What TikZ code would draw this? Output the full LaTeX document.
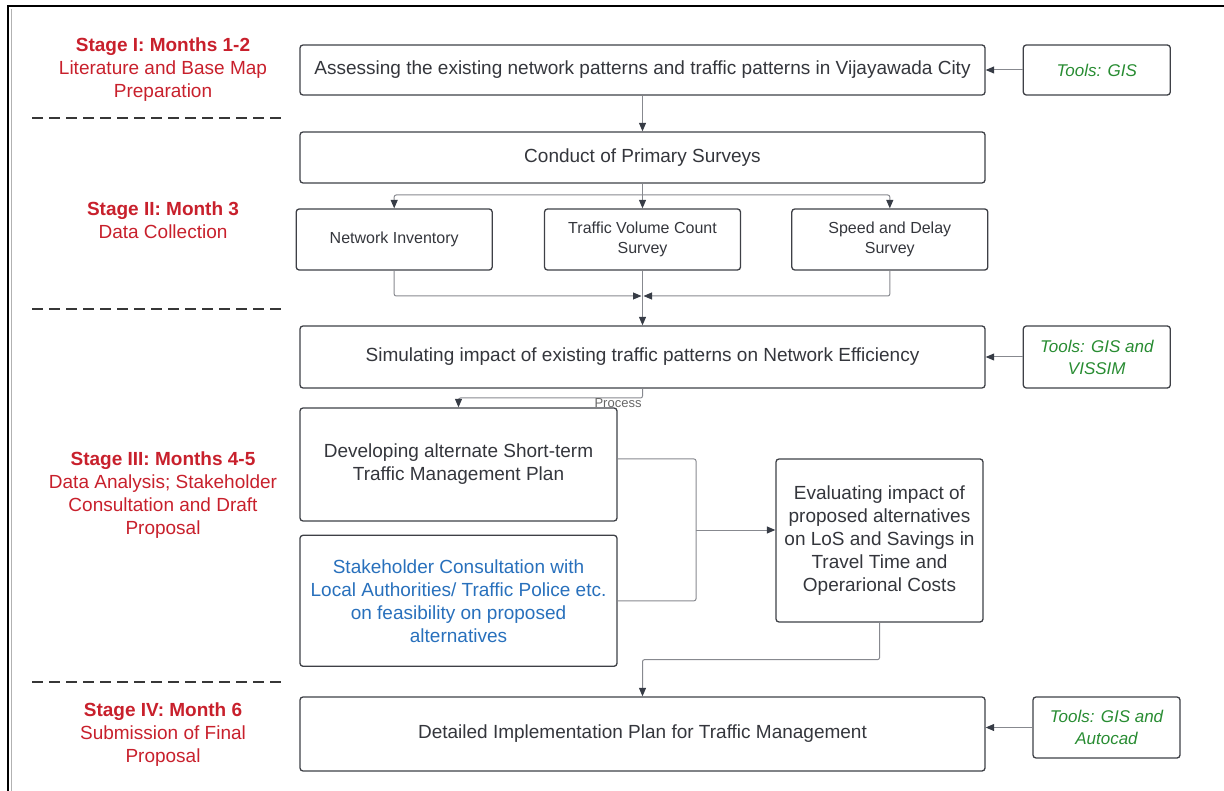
\documentclass[tikz,border=0pt]{standalone}
\usepackage{fontspec}
\setmainfont{Liberation Sans}
\usepackage{xcolor}
\usetikzlibrary{positioning,arrows.meta,calc}

\definecolor{stagered}{RGB}{200,32,44}
\definecolor{toolgreen}{RGB}{40,140,50}
\definecolor{stakeblue}{RGB}{40,112,188}
\definecolor{boxtext}{RGB}{52,54,60}
\definecolor{boxline}{RGB}{62,64,70}
\definecolor{linegray}{RGB}{135,137,143}
\definecolor{tipgray}{RGB}{55,60,70}
\definecolor{sepgray}{RGB}{55,55,55}

\begin{document}
\begin{tikzpicture}[x=1pt,y=-1pt,
    box/.style={rectangle, rounded corners=3pt, draw=boxline, line width=1.3pt, align=center, text=boxtext, inner sep=2pt, font=\fontsize{19}{23}\selectfont},
    wide/.style={box, minimum width=685pt},
    small/.style={box, minimum width=196pt, minimum height=61pt, font=\fontsize{16}{20}\selectfont},
    tool/.style={box, minimum width=147pt, text=toolgreen, font=\fontsize{17}{22}\selectfont\itshape},
    stage/.style={align=center, text=stagered, font=\fontsize{19}{23}\selectfont},
    flow/.style={draw=linegray, line width=1pt, rounded corners=2pt, -{Triangle[length=8.5pt,width=7pt,color=tipgray]}},
    link/.style={draw=linegray, line width=1pt, rounded corners=2pt},
    sep/.style={draw=sepgray, line width=2.5pt, dash pattern=on 11pt off 6pt}]
    \useasboundingbox (0,0) rectangle (1224,791);

    % page frame
    \draw[black, line width=2pt] (8,791) -- (8,6) -- (1224,6);
    \draw[black!30, line width=0.6pt] (11.5,791) -- (11.5,9);

    % Stage labels on the left
    \node [stage] (stage1) at (163,70) {\textbf{Stage I: Months 1-2}\\Literature and Base Map\\Preparation};
    \node [stage] (stage2) at (163,220.5) {\textbf{Stage II: Month 3}\\Data Collection};
    \node [stage] (stage3) at (163,495.5) {\textbf{Stage III: Months 4-5}\\Data Analysis; Stakeholder\\Consultation and Draft\\Proposal};
    \node [stage] (stage4) at (163,735) {\textbf{Stage IV: Month 6}\\Submission of Final\\Proposal};

    \draw [sep] (32,118) -- (286,118);
    \draw [sep] (32,309) -- (286,309);
    \draw [sep] (32,682) -- (286,682);

    % Stage I
    \node [wide, minimum height=50pt] (assess) at (642.5,70) {Assessing the existing network patterns and traffic patterns in Vijayawada City};
    \node [tool, minimum height=50pt, right=37pt of assess] (gis) {Tools: GIS};

    % Stage II
    \node [wide, minimum height=51pt] (primary) at (642.5,157.5) {Conduct of Primary Surveys};
    \node [small] (volume) at (642.5,239.5) {Traffic Volume Count\\Survey};
    \node [small, left=51pt of volume] (inventory) {Network Inventory};
    \node [small, right=50pt of volume] (speed) {Speed and Delay\\Survey};

    % Stage III
    \node [wide, minimum height=62pt] (simulate) at (642.5,357) {Simulating impact of existing traffic patterns on Network Efficiency};
    \node [tool, minimum height=62pt, right=37pt of simulate] (vissim) {Tools: GIS and\\VISSIM};
    \node [box, minimum width=317pt, minimum height=113pt] (develop) at (458.5,464.5) {Developing alternate Short-term\\Traffic Management Plan};
    \node [box, minimum width=317pt, minimum height=131pt, text=stakeblue, below=13pt of develop] (stakeholder) {Stakeholder Consultation with\\Local Authorities/ Traffic Police etc.\\on feasibility on proposed\\alternatives};
    \node [box, minimum width=207pt, minimum height=163pt] (evaluate) at (879.5,540.5) {Evaluating impact of\\proposed alternatives\\on LoS and Savings in\\Travel Time and\\Operarional Costs};

    % Stage IV
    \node [wide, minimum height=74pt] (implement) at (642.5,734) {Detailed Implementation Plan for Traffic Management};
    \node [tool, minimum height=61pt] (autocad) at (1106.5,727.5) {Tools: GIS and\\Autocad};

    % connectors
    \coordinate (split) at (642.5,195);
    \coordinate (merge) at (642.5,296);
    \coordinate (turn) at (642.5,398);
    \coordinate (join) at (696,530);

    \draw [flow] (assess) -- (primary);
    \draw [flow] (gis) -- (assess);
    \draw [link] (primary.south) -- (split);
    \draw [flow] (split) -| (inventory.north);
    \draw [flow] (split) -- (volume.north);
    \draw [flow] (split) -| (speed.north);
    \draw [flow] (inventory.south) |- ([xshift=-1pt]merge);
    \draw [flow] (speed.south) |- ([xshift=1pt]merge);
    \draw [flow] (volume) -- (simulate);
    \draw [flow] (vissim) -- (simulate);
    \draw [flow] (simulate.south) -- (turn) node [anchor=north east, inner sep=0.5pt, text=black!60, font=\fontsize{13}{15}\selectfont] {Process} -| (develop.north);
    \draw [link] ([yshift=5.5pt]develop.east) -| (join);
    \draw [link] (stakeholder.east) -| (join);
    \draw [flow] (join) -- (join -| evaluate.west);
    \draw [flow] (evaluate.south) -- ++(0,37) -| (implement.north);
    \draw [flow] (autocad.west) -- (autocad.west -| implement.east);
\end{tikzpicture}
\end{document}
